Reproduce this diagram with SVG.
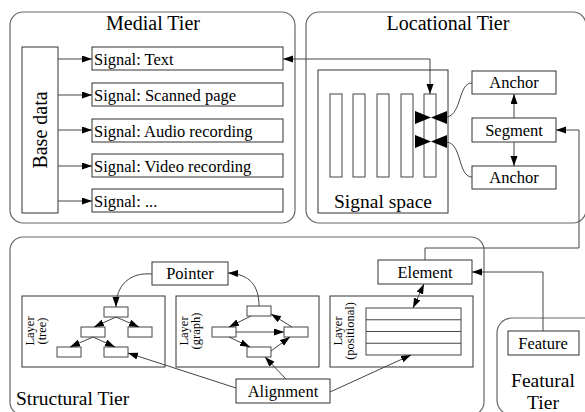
<svg xmlns="http://www.w3.org/2000/svg" width="585" height="412" viewBox="0 0 585 412" font-family="Liberation Serif, DejaVu Serif, serif">
<defs>
<marker id="ah" markerUnits="userSpaceOnUse" markerWidth="10" markerHeight="8" refX="10" refY="3.5" orient="auto-start-reverse"><path d="M0,0 L10,3.5 L0,7 z" fill="#000"/></marker>
<style>
.tier{fill:#fff;stroke:#666;stroke-width:1.2}
.box{fill:#fff;stroke:#333;stroke-width:1}
.sm{fill:#fff;stroke:#444;stroke-width:1}
.ln{fill:none;stroke:#444;stroke-width:1}
.arr{fill:none;stroke:#444;stroke-width:1;marker-end:url(#ah)}
.bi{fill:none;stroke:#444;stroke-width:1;marker-end:url(#ah);marker-start:url(#ah)}
text{font-family:Liberation Serif, DejaVu Serif, serif;fill:#000}
.t20{font-size:20px}
.t16{font-size:16.5px}
.t12{font-size:12.5px}
</style>
</defs>
<rect width="585" height="412" fill="#fff"/>

<g id="medial-tier">
<rect class="tier" x="10" y="12" width="285" height="211" rx="13"/>
<text class="t20" x="153" y="30" text-anchor="middle">Medial Tier</text>
</g>
<g id="base-data">
<rect class="box" x="22" y="47" width="36" height="166"/>
<text class="t20" transform="translate(47,130) rotate(-90)" text-anchor="middle">Base data</text>
</g>
<g id="signal-text"><rect class="box" x="92" y="47" width="191" height="23"/><text class="t16" x="94" y="65">Signal: Text</text></g>
<g id="signal-scanned"><rect class="box" x="92" y="83" width="191" height="23"/><text class="t16" x="94" y="101">Signal: Scanned page</text></g>
<g id="signal-audio"><rect class="box" x="92" y="119" width="191" height="23"/><text class="t16" x="94" y="137">Signal: Audio recording</text></g>
<g id="signal-video"><rect class="box" x="92" y="154" width="191" height="23"/><text class="t16" x="94" y="172">Signal: Video recording</text></g>
<g id="signal-etc"><rect class="box" x="92" y="189" width="191" height="23"/><text class="t16" x="94" y="207">Signal: ...</text></g>

<g id="locational-tier">
<rect class="tier" x="306" y="12" width="280" height="211" rx="13"/>
<text class="t20" x="448" y="30" text-anchor="middle">Locational Tier</text>
</g>
<g id="signal-space">
<rect class="box" x="318" y="70" width="130" height="143"/>
<rect class="sm" x="330" y="94" width="12" height="83"/>
<rect class="sm" x="353" y="94" width="12" height="83"/>
<rect class="sm" x="377" y="94" width="12" height="83"/>
<rect class="sm" x="401" y="94" width="12" height="83"/>
<rect class="sm" x="424" y="94" width="12" height="83"/>
<polygon points="415,111 431,117.5 415,124" fill="#000"/>
<polygon points="447,111 431,117.5 447,124" fill="#000"/>
<polygon points="415,135 431,141.5 415,148" fill="#000"/>
<polygon points="447,135 431,141.5 447,148" fill="#000"/>
<text x="383" y="208" text-anchor="middle" style="font-size:19.5px">Signal space</text>
</g>
<g id="anchor-top"><rect class="box" x="472" y="71" width="84" height="23"/><text class="t16" x="514" y="88" text-anchor="middle">Anchor</text></g>
<g id="segment"><rect class="box" x="472" y="118" width="84" height="24"/><text class="t16" x="514" y="136" text-anchor="middle">Segment</text></g>
<g id="anchor-bottom"><rect class="box" x="472" y="166" width="84" height="23"/><text class="t16" x="514" y="183" text-anchor="middle">Anchor</text></g>

<g id="structural-tier">
<rect class="tier" x="10" y="237" width="474" height="178" rx="13"/>
<text x="16" y="405" style="font-size:19.5px">Structural Tier</text>
</g>
<g id="featural-tier">
<rect class="tier" x="497" y="318" width="110" height="97" rx="15"/>
<text x="543" y="387" text-anchor="middle" style="font-size:19.5px">Featural</text>
<text x="543" y="409" text-anchor="middle" style="font-size:19.5px">Tier</text>
</g>
<g id="feature"><rect class="box" x="508" y="331" width="71" height="24"/><text class="t16" x="543" y="349" text-anchor="middle">Feature</text></g>
<g id="element"><rect class="box" x="378" y="260" width="94" height="24"/><text class="t16" x="425" y="278" text-anchor="middle">Element</text></g>
<g id="pointer"><rect class="box" x="152" y="262" width="76" height="23"/><text class="t16" x="190" y="279" text-anchor="middle">Pointer</text></g>
<g id="alignment"><rect class="box" x="236" y="379" width="94" height="24"/><text class="t16" x="283" y="397" text-anchor="middle">Alignment</text></g>

<g id="layer-tree">
<rect class="box" x="22" y="296" width="143" height="71"/>
<text class="t12" transform="translate(34,331) rotate(-90)" text-anchor="middle">Layer</text>
<text class="t12" transform="translate(46,331) rotate(-90)" text-anchor="middle">(tree)</text>
<rect class="sm" x="104" y="307" width="24" height="10"/>
<rect class="sm" x="81" y="327" width="24" height="10"/>
<rect class="sm" x="128" y="327" width="24" height="10"/>
<rect class="sm" x="57" y="347" width="24" height="10"/>
<rect class="sm" x="104" y="347" width="24" height="10"/>
</g>
<g id="layer-graph">
<rect class="box" x="176" y="296" width="143" height="71"/>
<text class="t12" transform="translate(188,331) rotate(-90)" text-anchor="middle">Layer</text>
<text class="t12" transform="translate(200,331) rotate(-90)" text-anchor="middle">(graph)</text>
<rect class="sm" x="247" y="306" width="24" height="10"/>
<rect class="sm" x="212" y="327" width="24" height="10"/>
<rect class="sm" x="284" y="327" width="24" height="10"/>
<rect class="sm" x="247" y="347" width="24" height="10"/>
</g>
<g id="layer-positional">
<rect class="box" x="330" y="296" width="143" height="71"/>
<text class="t12" transform="translate(342,331) rotate(-90)" text-anchor="middle">Layer</text>
<text class="t12" transform="translate(354,331) rotate(-90)" text-anchor="middle">(positional)</text>
<rect class="sm" x="366" y="308" width="95" height="47"/>
<line class="ln" x1="366" y1="319.75" x2="461" y2="319.75"/>
<line class="ln" x1="366" y1="331.5" x2="461" y2="331.5"/>
<line class="ln" x1="366" y1="343.25" x2="461" y2="343.25"/>
</g>

<g id="connectors">
<path class="arr" d="M58,59 H92"/>
<path class="arr" d="M58,95 H92"/>
<path class="arr" d="M58,130 H92"/>
<path class="arr" d="M58,166 H92"/>
<path class="arr" d="M58,201 H92"/>
<path class="bi" d="M283,59 H430 V94"/>
<path class="arr" d="M514,118 V94"/>
<path class="arr" d="M514,142 V166"/>
<path class="ln" d="M472,83 C458,83 462,114 447,117"/>
<path class="ln" d="M472,177 C458,177 462,144 447,142"/>
<path class="arr" d="M425,260 V248 H579 V130 H556"/>
<path class="arr" d="M543,331 V272 H472"/>
<path class="bi" d="M424,284 L413,308"/>
<path class="arr" d="M152,274 C130,272 116,285 116,307"/>
<path class="arr" d="M259,306 C259,286 250,274 228,273"/>
<path class="arr" d="M116,317 L94,327"/>
<path class="arr" d="M116,317 L139,327"/>
<path class="arr" d="M93,337 L70,347"/>
<path class="arr" d="M93,337 L115,347"/>
<path class="arr" d="M251,316 L229,327"/>
<path class="arr" d="M236,332 H284"/>
<path class="arr" d="M229,337 L250,347"/>
<path class="arr" d="M292,327 L271,314"/>
<path class="arr" d="M271,351 L290,337"/>
<path class="arr" d="M286,379 L265,357"/>
<path class="arr" d="M236,388 L128,353"/>
<path class="arr" d="M330,392 L411,355"/>
</g>
</svg>
